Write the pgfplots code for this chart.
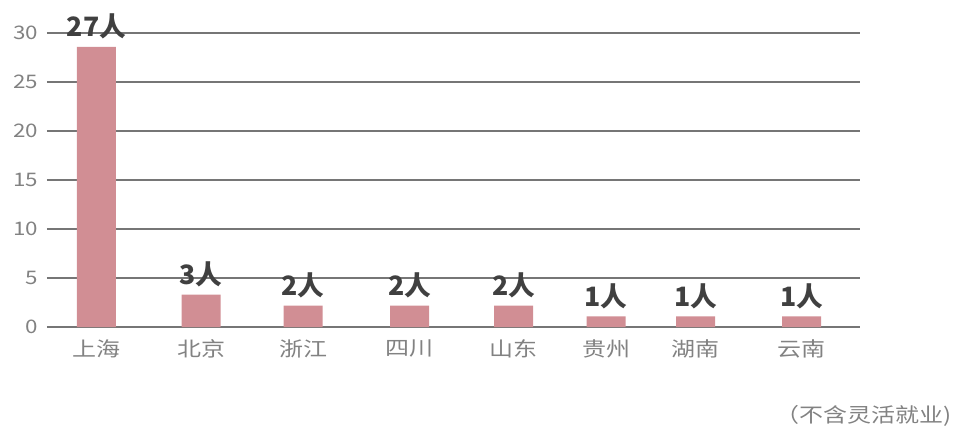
\documentclass[border=0pt]{standalone}
\usepackage{pgfplots}
\pgfplotsset{compat=1.18}
\usepackage{fontspec}
\setmainfont{Noto Sans CJK SC}
\newfontfamily\wide{Noto Sans CJK SC}[FakeStretch=1.2]
\definecolor{barpink}{RGB}{209,142,148}
\definecolor{gridgray}{RGB}{118,118,118}
\definecolor{labgray}{RGB}{130,130,130}
\definecolor{valdark}{RGB}{64,64,64}
\begin{document}
\begin{tikzpicture}[x=0.75pt,y=0.75pt]
    \useasboundingbox (0,0) rectangle (954,429);
    \begin{axis}[
        at={(47,104)}, anchor=south west,
        scale only axis,
        width=609.75pt, height=220.5pt,
        xmin=47, xmax=860,
        ymin=0, ymax=30,
        ytick={0,5,...,30},
        xtick=data,
        xticklabels={上海,北京,浙江,四川,山东,贵州,湖南,云南},
        ymajorgrids,
        grid style={gridgray, line width=0.9pt},
        axis line style={draw=none},
        tick style={draw=none},
        /pgf/number format/assume math mode=true,
        yticklabel style={font=\wide\fontsize{14}{16}\selectfont, text=labgray, xshift=-3pt},
        xticklabel style={font=\wide\fontsize{15}{17}\selectfont, text=labgray, yshift=-6pt},
        clip=false,
        point meta=explicit symbolic,
        nodes near coords={\pgfplotspointmeta 人},
        nodes near coords style={font=\fontsize{20}{22}\selectfont\bfseries, text=valdark, anchor=south, yshift=2pt},
    ]
    \addplot [ybar, bar width=39, fill=barpink, draw=none]
    coordinates {
        (96.5,28.6) [27]
        (201,3.3) [3]
        (303,2.2) [2]
        (409.5,2.2) [2]
        (513.5,2.2) [2]
        (606,1.1) [1]
        (695.5,1.1) [1]
        (801.5,1.1) [1]
    };
    \end{axis}
    \node [anchor=east, inner sep=0pt, text=labgray, font=\wide\fontsize{15}{17}\selectfont] at (952,13) {（不含灵活就业)};
\end{tikzpicture}
\end{document}
